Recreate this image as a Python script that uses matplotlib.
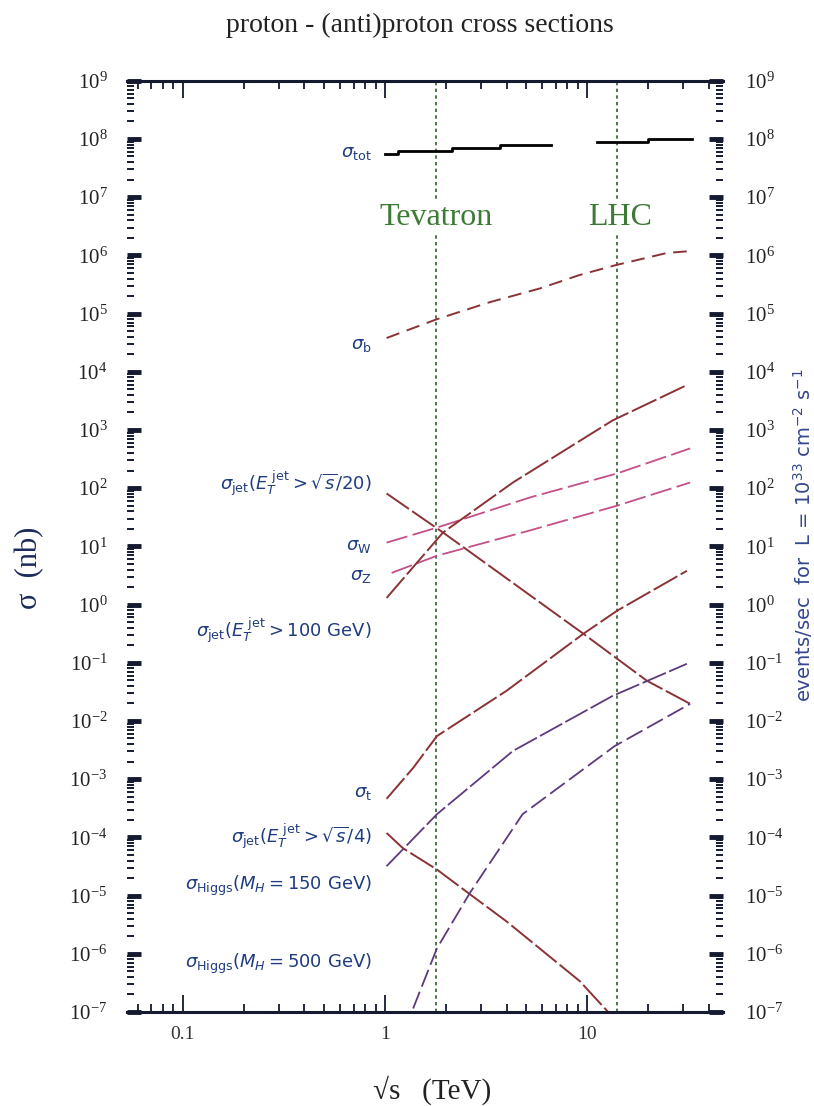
import matplotlib.pyplot as plt
from matplotlib.ticker import LogLocator, NullFormatter, FixedLocator, FixedFormatter, LogFormatterMathtext

plt.rcParams['font.family'] = ['Liberation Serif', 'DejaVu Serif']
plt.rcParams['mathtext.fontset'] = 'stix'

# sqrt(s) in TeV, cross sections in nb
tot_x1 = [1.0, 1.16, 2.15, 3.7, 6.6]
tot_y1 = [5.5e7, 6.2e7, 7.0e7, 7.9e7, 7.9e7]
tot_x2 = [11.2, 20.0, 33.0]
tot_y2 = [8.9e7, 1.0e8, 1.0e8]

b_x = [1.02, 1.81, 3.31, 5.85, 9.2, 13.9, 24.9, 33.0]
b_y = [3.8e4, 8.0e4, 1.57e5, 2.7e5, 4.6e5, 6.8e5, 1.1e6, 1.19e6]

jet20_x = [1.02, 1.94, 9.6, 19.8, 32.4]
jet20_y = [81, 17.3, 0.315, 0.049, 0.0197]

w_x = [1.02, 1.81, 5.2, 14.1, 32.4]
w_y = [11.6, 21, 69, 179, 482]

z_x = [1.08, 1.81, 5.2, 14.1, 32.4]
z_y = [3.5, 6.9, 18.7, 50, 125]

jet100_x = [1.02, 1.94, 4.3, 13.4, 31.2]
jet100_y = [1.3, 17.3, 125, 1460, 5900]

top_x = [1.02, 1.38, 1.81, 4.0, 9.6, 14.1, 31.2]
top_y = [4.6e-4, 1.56e-3, 5.5e-3, 0.033, 0.315, 0.785, 3.8]

jet4_x = [1.02, 1.23, 1.81, 2.63, 4.0, 9.2, 12.9]
jet4_y = [1.19e-4, 6.5e-5, 2.8e-5, 1.06e-5, 3.6e-6, 3.4e-7, 9.5e-8]

h150_x = [1.02, 1.81, 4.3, 13.4, 31.2]
h150_y = [3.2e-5, 2.5e-4, 3.05e-3, 0.027, 0.096]

h500_x = [1.38, 1.81, 2.63, 4.8, 13.7, 32.4]
h500_y = [1.15e-7, 1.24e-6, 1.1e-5, 2.5e-4, 3.7e-3, 0.0197]

tevatron = 1.8
lhc = 14.0

x_ticks = [0.1, 1, 10]
x_tick_labels = ['0.1', '1', '10']

labels = [r'$\sigma_{\rm tot}$', r'$\sigma_{\rm b}$',
          r'$\sigma_{\rm jet}(E_T^{\rm\ jet} > \sqrt{s}/20)$', r'$\sigma_{\rm W}$', r'$\sigma_{\rm Z}$',
          r'$\sigma_{\rm jet}(E_T^{\rm\ jet} > 100\ {\rm GeV})$', r'$\sigma_{\rm t}$',
          r'$\sigma_{\rm jet}(E_T^{\rm\ jet} > \sqrt{s}/4)$',
          r'$\sigma_{\rm Higgs}(M_H = 150\ {\rm GeV})$', r'$\sigma_{\rm Higgs}(M_H = 500\ {\rm GeV})$']
label_y = [5.8e7, 2.9e4, 120, 10.3, 3.1, 0.36, 5.8e-4, 1.05e-4, 1.45e-5, 6.6e-7]

fig = plt.figure(figsize=(8.14, 11.06), dpi=100)
ax = fig.add_axes([0.156, 0.085, 0.732, 0.842])
ax.set_xscale('log')
ax.set_yscale('log')
ax.set_xlim(0.053, 47)
ax.set_ylim(1e-7, 1e9)

red = '#8b3234'
pink = '#c45088'
purple = '#5e3a7c'
ax.plot(tot_x1, tot_y1, color='black', lw=2, drawstyle='steps-post')
ax.plot(tot_x2, tot_y2, color='black', lw=2, drawstyle='steps-post')
ax.plot(b_x, b_y, color=red, lw=1.4, ls=(0, (7, 4)))
ax.plot(jet20_x, jet20_y, color=red, lw=1.4, ls=(0, (14, 2)))
ax.plot(w_x, w_y, color=pink, lw=1.3, ls=(0, (12, 3)))
ax.plot(z_x, z_y, color=pink, lw=1.3, ls=(0, (12, 3)))
ax.plot(jet100_x, jet100_y, color=red, lw=1.4, ls=(0, (14, 2)))
ax.plot(top_x, top_y, color=red, lw=1.4, ls=(0, (14, 2)))
ax.plot(jet4_x, jet4_y, color=red, lw=1.4, ls=(0, (14, 2)))
ax.plot(h150_x, h150_y, color=purple, lw=1.3, ls=(0, (14, 2)))
ax.plot(h500_x, h500_y, color=purple, lw=1.3, ls=(0, (10, 3)))

green = '#2f5f2a'
ax.axvline(tevatron, color=green, lw=1.2, ls=(0, (2, 2)), zorder=1)
ax.axvline(lhc, color=green, lw=1.2, ls=(0, (2, 2)), zorder=1)
ax.text(tevatron, 4.4e6, 'Tevatron', color='#3d7a35', fontsize=23, ha='center', va='center',
        bbox=dict(facecolor='white', edgecolor='none', pad=2), zorder=3)
ax.text(lhc * 1.04, 4.4e6, 'LHC', color='#3d7a35', fontsize=23, ha='center', va='center',
        bbox=dict(facecolor='white', edgecolor='none', pad=2), zorder=3)

for lab, yy in zip(labels, label_y):
    ax.text(0.86, yy, lab, color='#203c80', fontsize=13, ha='right', va='center',
            family='DejaVu Sans', math_fontfamily='dejavusans')

for s in ['left', 'right']:
    ax.spines[s].set_visible(False)
for s in ['top', 'bottom']:
    ax.spines[s].set_linewidth(2.2)
    ax.spines[s].set_color('#141a30')

ax.xaxis.set_major_locator(FixedLocator(x_ticks))
ax.xaxis.set_major_formatter(FixedFormatter(x_tick_labels))
ax.xaxis.set_minor_locator(LogLocator(base=10, subs=range(2, 10), numticks=50))
ax.xaxis.set_minor_formatter(NullFormatter())
ax.tick_params(axis='x', which='both', direction='in', top=True, colors='#141a30',
               labelsize=14, pad=10)
ax.tick_params(axis='x', which='major', length=12, width=1.3)
ax.tick_params(axis='x', which='minor', length=6, width=1.3)
for t in ax.get_xticklabels():
    t.set_color('#333333')

ax2 = ax.twinx()
ax2.set_yscale('log')
ax2.set_ylim(ax.get_ylim())
for s in ax2.spines.values():
    s.set_visible(False)

for a, side in [(ax, 'left'), (ax2, 'right')]:
    a.yaxis.set_major_locator(LogLocator(base=10, numticks=30))
    a.yaxis.set_major_formatter(LogFormatterMathtext())
    a.yaxis.set_minor_locator(LogLocator(base=10, subs=range(2, 10), numticks=200))
    a.yaxis.set_minor_formatter(NullFormatter())
    a.tick_params(axis='y', which='both', direction='in', colors='#141a30', labelsize=15,
                  pad=14 if side == 'left' else 16)
    a.tick_params(axis='y', which='major', length=10, width=3.5)
    a.tick_params(axis='y', which='minor', length=5, width=1.4)
    for t in a.get_yticklabels():
        t.set_color('#222222')

fig.text(0.516, 1 - 25 / 1106, 'proton - (anti)proton cross sections', fontsize=20,
         ha='center', va='center', color='#222222')
fig.text(30 / 814, 1 - 568 / 1106, 'σ  (nb)', fontsize=22, rotation=90,
         ha='center', va='center', color='#1a2a5a')
fig.text(432 / 814, 1 - 1090 / 1106, '√s   (TeV)', fontsize=21, ha='center', va='center',
         color='#222222')
fig.text(803 / 814, 1 - 535 / 1106, r'events/sec  for  L = 10$^{33}$ cm$^{-2}$ s$^{-1}$',
         fontsize=14, rotation=90, ha='center', va='center', color='#34468e',
         family='DejaVu Sans', math_fontfamily='dejavusans')

fig.savefig('out.png', dpi=100)
